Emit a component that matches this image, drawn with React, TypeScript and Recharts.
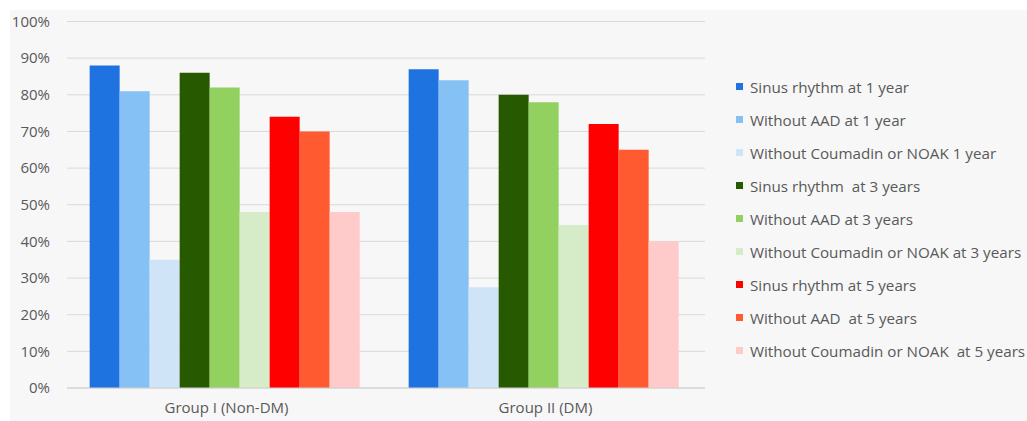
import React from 'react';
import { BarChart, Bar, XAxis, YAxis, CartesianGrid } from 'recharts';

const categories = ['Group I (Non-DM)', 'Group II (DM)'];
const seriesNames = [
  'Sinus rhythm at 1 year',
  'Without AAD at 1 year',
  'Without Coumadin or NOAK 1 year',
  'Sinus rhythm  at 3 years',
  'Without AAD at 3 years',
  'Without Coumadin or NOAK at 3 years',
  'Sinus rhythm at 5 years',
  'Without AAD  at 5 years',
  'Without Coumadin or NOAK  at 5 years',
];
const seriesColors = [
  '#1F73E0', '#85C1F5', '#D0E4F7',
  '#275900', '#92D05F', '#D6EBC8',
  '#FF0000', '#FF5A30', '#FFCACA',
];
const sinus1 = [88, 87];
const noAad1 = [81, 84];
const noAnticoag1 = [35, 27.5];
const sinus3 = [86, 80];
const noAad3 = [82, 78];
const noAnticoag3 = [48, 44.5];
const sinus5 = [74, 72];
const noAad5 = [70, 65];
const noAnticoag5 = [48, 40];
const yTicks = [0, 10, 20, 30, 40, 50, 60, 70, 80, 90, 100];

const seriesValues = [sinus1, noAad1, noAnticoag1, sinus3, noAad3, noAnticoag3, sinus5, noAad5, noAnticoag5];
const data = categories.map((c, i) => {
  const row: Record<string, any> = { name: c };
  seriesValues.forEach((vals, s) => { row['s' + s] = vals[i]; });
  return row;
});

const FONT = '"Open Sans", sans-serif';
const TEXT = '#595959';

const LegendBox = () => (
  <div style={{ position: 'absolute', left: 736, top: 70, fontFamily: FONT, fontSize: 15.2, color: TEXT }}>
    {seriesNames.map((n, i) => (
      <div key={i} style={{ height: 33, display: 'flex', alignItems: 'center', whiteSpace: 'pre' }}>
        <span style={{ width: 7, height: 7, background: seriesColors[i], display: 'inline-block', marginRight: 7 }} />
        <span>{n}</span>
      </div>
    ))}
  </div>
);

export default function App() {
  return (
    <div style={{ position: 'absolute', left: 0, top: 0, width: 1027, height: 421, background: '#ffffff' }}>
      <div style={{ position: 'absolute', left: 10, top: 10, width: 1017, height: 411, background: '#f7f7f7' }} />
      <div style={{ position: 'absolute', left: 0, top: 0 }}>
        <BarChart
          width={1027}
          height={421}
          data={data}
          margin={{ top: 21.5, right: 322, bottom: 0, left: 10 }}
          barCategoryGap="7.1%"
          barGap={0}
        >
          <CartesianGrid vertical={false} stroke="#d9d9d9" />
          <XAxis
            dataKey="name"
            height={33}
            axisLine={{ stroke: '#d0d0d0' }}
            tickLine={false}
            tickMargin={8}
            tick={{ fill: TEXT, fontSize: 15, fontFamily: FONT }}
          />
          <YAxis
            width={57}
            domain={[0, 100]}
            ticks={yTicks}
            tickFormatter={(v: number) => `${v}%`}
            axisLine={false}
            tickLine={false}
            tickMargin={11}
            interval={0}
            tick={{ fill: TEXT, fontSize: 15, fontFamily: FONT }}
          />
          {seriesNames.map((n, i) => (
            <Bar key={i} dataKey={'s' + i} name={n} fill={seriesColors[i]} isAnimationActive={false} />
          ))}
        </BarChart>
      </div>
      <LegendBox />
    </div>
  );
}
